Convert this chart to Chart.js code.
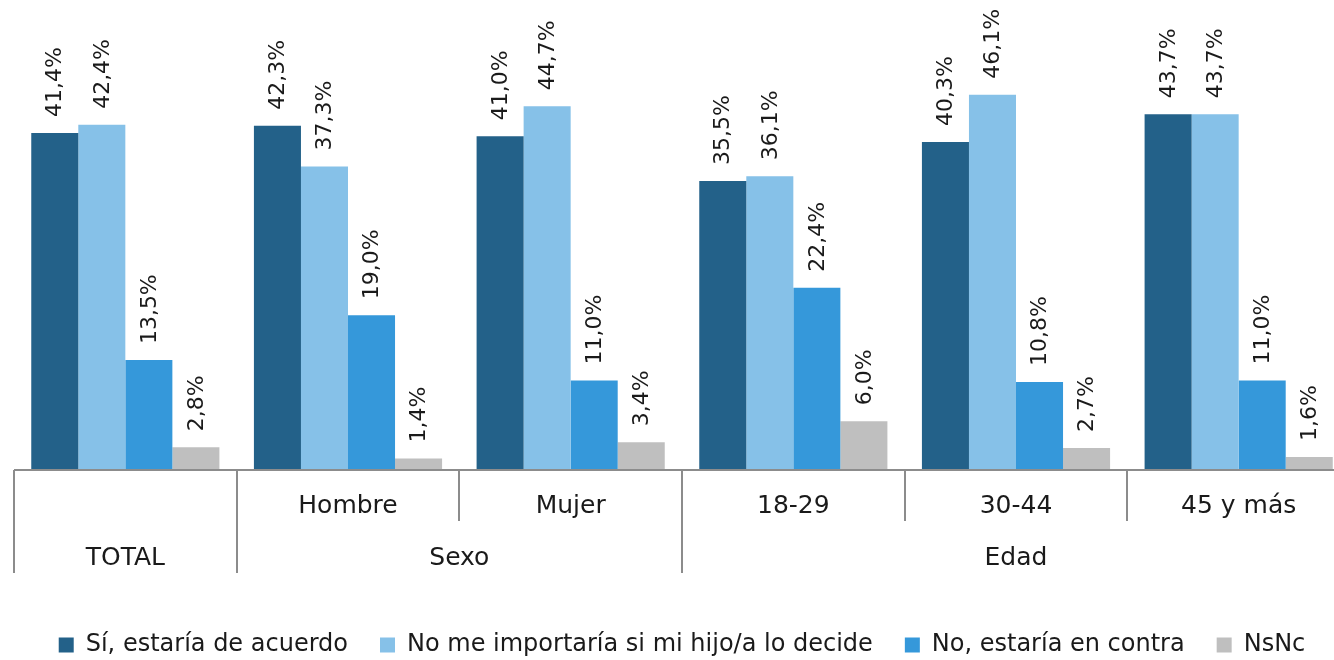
<!DOCTYPE html>
<html>
<head>
<meta charset="utf-8">
<script src="https://cdn.jsdelivr.net/npm/chart.js@4/dist/chart.umd.min.js"></script>
<style>
  html, body { margin: 0; padding: 0; background: #fff; overflow: hidden; }
  #wrap { width: 1350px; height: 660px; }
</style>
</head>
<body>
<div id="wrap"><canvas id="chart" width="1350" height="660"></canvas></div>
<script>
"use strict";

// --- Data ---
const subLabels = ['', 'Hombre', 'Mujer', '18-29', '30-44', '45 y más'];
const groupLabels = ['TOTAL', 'Sexo', 'Edad'];
const groupSpans = [1, 2, 3];

const seriesNames = [
    'Sí, estaría de acuerdo',
    'No me importaría si mi hijo/a lo decide',
    'No, estaría en contra',
    'NsNc'
];
const siAcuerdo = [41.4, 42.3, 41.0, 35.5, 40.3, 43.7];
const noImporta = [42.4, 37.3, 44.7, 36.1, 46.1, 43.7];
const enContra = [13.5, 19.0, 11.0, 22.4, 10.8, 11.0];
const nsnc = [2.8, 1.4, 3.4, 6.0, 2.7, 1.6];

const seriesColors = ['#236189', '#86C1E8', '#3598DA', '#BFBFBF'];

const FONT = 'DejaVu Sans';
const textColor = '#1a1a1a';
const axisColor = '#8c8c8c';

// Value labels, rotated, sitting above each bar
const valueLabels = {
    id: 'valueLabels',
    afterDatasetsDraw(chart) {
        const ctx = chart.ctx;
        ctx.save();
        ctx.font = `22px "${FONT}"`;
        ctx.fillStyle = textColor;
        ctx.textAlign = 'left';
        ctx.textBaseline = 'middle';
        chart.data.datasets.forEach((ds, di) => {
            chart.getDatasetMeta(di).data.forEach((bar, i) => {
                const txt = ds.data[i].toFixed(1).replace('.', ',') + '%';
                ctx.save();
                ctx.translate(bar.x + 1, bar.y - 16);
                ctx.rotate(-Math.PI / 2);
                ctx.fillText(txt, 0, 0);
                ctx.restore();
            });
        });
        ctx.restore();
    }
};

// Two-level category axis (sub labels + group labels) with separator lines
const multiAxis = {
    id: 'multiAxis',
    afterDraw(chart) {
        const ctx = chart.ctx;
        const area = chart.chartArea;
        const n = subLabels.length;
        const step = (area.right - area.left) / n;
        const y0 = area.bottom;
        const row1 = y0 + 51;
        const row2 = y0 + 103;

        ctx.save();
        ctx.strokeStyle = axisColor;
        ctx.lineWidth = 2;
        ctx.beginPath();
        ctx.moveTo(area.left, y0);
        ctx.lineTo(area.right, y0);
        ctx.stroke();

        // group boundaries (full height) and inner boundaries (first row only)
        const fullEdges = new Set([0]);
        let acc = 0;
        groupSpans.forEach(s => { acc += s; fullEdges.add(acc); });
        ctx.beginPath();
        for (let i = 0; i <= n; i++) {
            const x = Math.round(area.left + i * step);
            ctx.moveTo(x, y0);
            ctx.lineTo(x, fullEdges.has(i) ? row2 : row1);
        }
        ctx.stroke();

        ctx.font = `25px "${FONT}"`;
        ctx.fillStyle = textColor;
        ctx.textAlign = 'center';
        ctx.textBaseline = 'middle';
        subLabels.forEach((lab, i) => {
            if (lab) ctx.fillText(lab, area.left + (i + 0.5) * step, y0 + 36);
        });
        let start = 0;
        groupLabels.forEach((lab, g) => {
            const mid = start + groupSpans[g] / 2;
            ctx.fillText(lab, area.left + mid * step, y0 + 88);
            start += groupSpans[g];
        });
        ctx.restore();
    }
};

const seriesData = [siAcuerdo, noImporta, enContra, nsnc];

new Chart(document.getElementById('chart').getContext('2d'), {
    type: 'bar',
    data: {
        labels: subLabels.map((s, i) => s || groupLabels[0]),
        datasets: seriesNames.map((name, i) => ({
            label: name,
            data: seriesData[i],
            backgroundColor: seriesColors[i],
            borderWidth: 0,
            categoryPercentage: 0.845,
            barPercentage: 1.0
        }))
    },
    options: {
        responsive: false,
        animation: false,
        devicePixelRatio: 1,
        layout: { padding: { top: 63, left: 14, right: 0, bottom: -7 } },
        plugins: {
            legend: {
                position: 'bottom',
                labels: {
                    color: textColor,
                    font: { family: FONT, size: 24 },
                    boxWidth: 15,
                    boxHeight: 15,
                    padding: 32
                }
            },
            tooltip: { enabled: false }
        },
        scales: {
            x: {
                grid: { display: false },
                border: { display: false },
                ticks: { display: false },
                afterFit: scale => { scale.height = 131; }
            },
            y: {
                display: false,
                min: 0,
                max: 50
            }
        }
    },
    plugins: [valueLabels, multiAxis]
});
</script>
</body>
</html>
